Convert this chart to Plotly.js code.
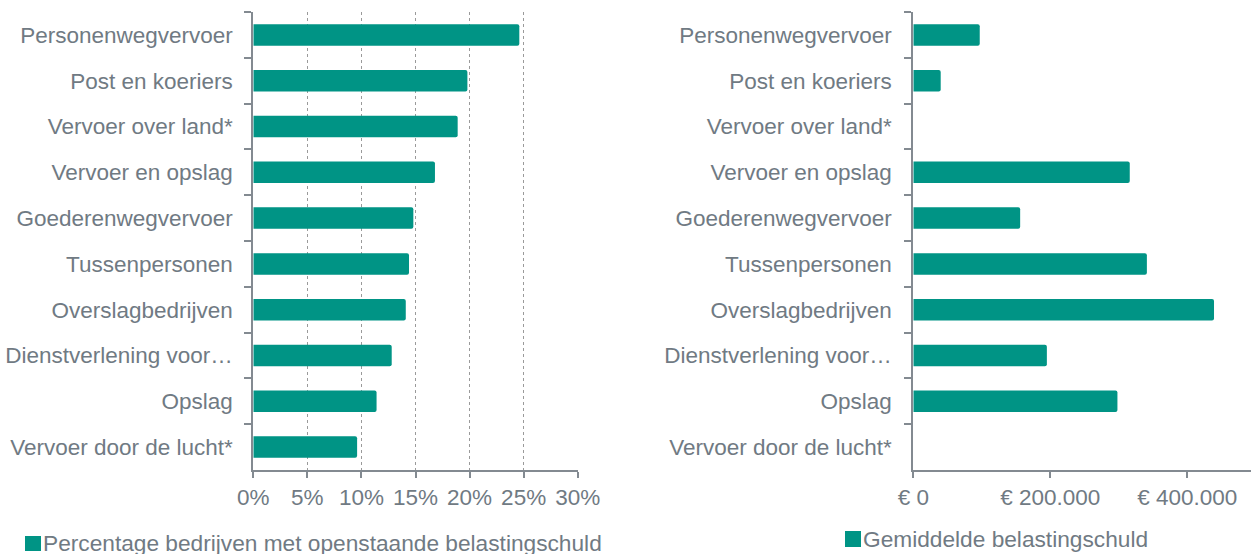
<!DOCTYPE html>
<html>
<head>
<meta charset="utf-8">
<script src="https://cdn.plot.ly/plotly-3.0.1.min.js"></script>
<style>html,body{margin:0;padding:0;background:#fff;} #chart{width:1251px;height:554px;}</style>
</head>
<body>
<div id="chart"></div>
<script>
// Data
const categories = [
  "Personenwegvervoer",
  "Post en koeriers",
  "Vervoer over land*",
  "Vervoer en opslag",
  "Goederenwegvervoer",
  "Tussenpersonen",
  "Overslagbedrijven",
  "Dienstverlening voor…",
  "Opslag",
  "Vervoer door de lucht*"
];
const percentage = [0.246, 0.198, 0.189, 0.168, 0.148, 0.144, 0.141, 0.128, 0.114, 0.096];
const gemiddeldeSchuld = [97000, 40000, null, 316000, 156000, 341000, 439000, 195000, 298000, null];
const pctTickVals = [0, 0.05, 0.10, 0.15, 0.20, 0.25, 0.30];
const pctTickText = ["0%", "5%", "10%", "15%", "20%", "25%", "30%"];
const eurTickVals = [0, 200000, 400000];
const eurTickText = ["€ 0", "€ 200.000", "€ 400.000"];
const legendLeft = "Percentage bedrijven met openstaande belastingschuld";
const legendRight = "Gemiddelde belastingschuld";

const W = 1251, H = 554;
const teal = "#009485";
const grey = "#707a83";
const axisGrey = "#838a91";
const font = {family: "Liberation Sans, Arial, sans-serif", size: 22.5, color: grey};
const legendFont = {family: "Liberation Sans, Arial, sans-serif", size: 22.7, color: grey};

const px = v => v / W;
const py = v => 1 - v / H;

const traces = [
  {type: "bar", orientation: "h", y: categories, x: percentage, marker: {color: teal},
   xaxis: "x", yaxis: "y", name: legendLeft, hoverinfo: "skip"},
  {type: "bar", orientation: "h", y: categories, x: gemiddeldeSchuld, marker: {color: teal},
   xaxis: "x2", yaxis: "y2", name: legendRight, hoverinfo: "skip"}
];

const yCommon = {
  type: "category", autorange: "reversed", tickson: "boundaries",
  ticks: "outside", ticklen: 7, tickwidth: 2, tickcolor: axisGrey,
  showline: true, linecolor: axisGrey, linewidth: 2, showgrid: false,
  tickfont: font, fixedrange: true
};
const xCommon = {
  ticks: "outside", ticklen: 6, tickwidth: 2, tickcolor: axisGrey,
  showline: true, linecolor: axisGrey, linewidth: 2, zeroline: false,
  tickfont: font, fixedrange: true, ticklabelstandoff: 0
};

const layout = {
  width: W, height: H,
  margin: {l: 0, r: 0, t: 0, b: 0},
  paper_bgcolor: "#fff", plot_bgcolor: "#fff",
  showlegend: false,
  bargap: 0.53,
  barcornerradius: 2,
  font: font,
  xaxis: Object.assign({}, xCommon, {
    domain: [px(253.3), px(577.7)], range: [0, 0.30], anchor: "y",
    tickvals: pctTickVals, ticktext: pctTickText,
    showgrid: true, gridcolor: "#9a9a9a", gridwidth: 1, griddash: "dot"
  }),
  yaxis: Object.assign({}, yCommon, {domain: [py(470), py(12)], anchor: "x", ticklabelstandoff: 14}),
  xaxis2: Object.assign({}, xCommon, {
    domain: [px(913.3), 1], range: [0, 493000], anchor: "y2",
    tickvals: eurTickVals, ticktext: eurTickText, showgrid: false
  }),
  yaxis2: Object.assign({}, yCommon, {domain: [py(470), py(12)], anchor: "x2", ticklabelstandoff: 15}),
  shapes: [
    {type: "rect", xref: "paper", yref: "paper", x0: px(25), x1: px(41), y0: py(551), y1: py(536),
     fillcolor: teal, line: {width: 0}},
    {type: "rect", xref: "paper", yref: "paper", x0: px(845), x1: px(861), y0: py(547), y1: py(531),
     fillcolor: teal, line: {width: 0}}
  ],
  annotations: [
    {xref: "paper", yref: "paper", x: px(41), y: py(543), xanchor: "left", yanchor: "middle",
     text: legendLeft, showarrow: false, font: legendFont},
    {xref: "paper", yref: "paper", x: px(861), y: py(539), xanchor: "left", yanchor: "middle",
     text: legendRight, showarrow: false, font: legendFont}
  ]
};

Plotly.newPlot("chart", traces, layout, {displayModeBar: false, staticPlot: true});
</script>
</body>
</html>
